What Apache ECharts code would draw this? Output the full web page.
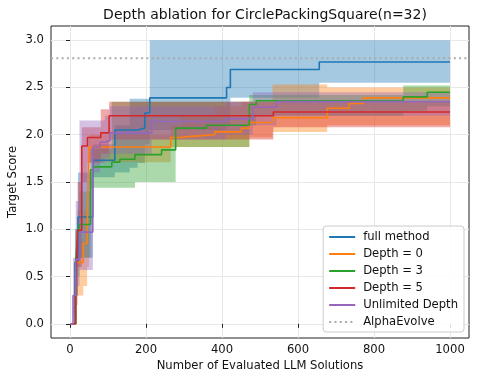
<!DOCTYPE html>
<html>
<head>
<meta charset="utf-8">
<script src="https://cdn.jsdelivr.net/npm/echarts@6/dist/echarts.min.js"></script>
<style>
  html, body { margin: 0; padding: 0; background: #fff; }
  #chart { width: 478px; height: 382px; }
</style>
</head>
<body>
<div id="chart"></div>
<script>
// step data: x = evaluated solutions, mean / low / high = score band
const full_x    = [0, 13, 21, 60, 118, 157, 178, 197, 210, 412, 422, 656, 1000];
const full_mean = [0, 0.65, 1.13, 1.73, 2.05, 2.05, 2.07, 2.23, 2.39, 2.50, 2.69, 2.77, 2.77];
const full_low  = [0, 0.30, 0.70, 1.55, 1.60, 1.65, 1.70, 1.90, 2.05, 2.10, 2.39, 2.55, 2.55];
const full_high = [0, 1.00, 1.60, 1.90, 2.10, 2.38, 2.38, 2.38, 3.00, 3.00, 3.00, 3.00, 3.00];

const d0_x    = [0, 15, 35, 45, 50, 265, 293, 310, 381, 451, 472, 533, 677, 735, 772, 1000];
const d0_mean = [0, 0.65, 0.85, 0.99, 1.87, 1.97, 1.98, 2.00, 2.03, 2.07, 2.13, 2.18, 2.28, 2.33, 2.39, 2.39];
const d0_low  = [0, 0.30, 0.40, 0.60, 1.71, 1.87, 1.87, 1.87, 1.87, 1.87, 1.97, 2.03, 2.10, 2.10, 2.10, 2.10];
const d0_high = [0, 0.90, 1.20, 1.50, 2.00, 2.10, 2.20, 2.20, 2.30, 2.35, 2.35, 2.53, 2.50, 2.50, 2.50, 2.50];

const d3_x    = [0, 15, 20, 25, 54, 60, 110, 131, 171, 241, 278, 359, 472, 490, 877, 940, 1000];
const d3_mean = [0, 0.68, 0.89, 1.05, 1.63, 1.66, 1.71, 1.74, 1.79, 1.84, 2.07, 2.10, 2.32, 2.36, 2.40, 2.45, 2.45];
const d3_low  = [0, 0.30, 0.50, 0.70, 1.44, 1.44, 1.44, 1.44, 1.50, 1.50, 1.87, 1.87, 2.10, 2.20, 2.25, 2.30, 2.30];
const d3_high = [0, 1.00, 1.20, 1.40, 1.85, 1.85, 2.35, 2.35, 2.35, 2.35, 2.35, 2.35, 2.42, 2.42, 2.52, 2.52, 2.52];

const d5_x    = [0, 15, 20, 31, 46, 81, 103, 535, 1000];
const d5_mean = [0, 0.40, 0.99, 1.88, 1.97, 2.02, 2.20, 2.24, 2.24];
const d5_low  = [0, 0.20, 0.60, 1.50, 1.70, 1.80, 1.95, 2.08, 2.08];
const d5_high = [0, 0.80, 1.50, 2.08, 2.08, 2.27, 2.35, 2.35, 2.35];

const unl_x    = [0, 8, 15, 25, 60, 79, 92, 105, 215, 411, 481, 543, 1000];
const unl_mean = [0, 0.30, 0.68, 0.97, 1.87, 1.92, 1.94, 2.02, 2.14, 2.17, 2.29, 2.35, 2.35];
const unl_low  = [0, 0.10, 0.40, 0.57, 1.60, 1.70, 1.75, 1.80, 1.95, 2.00, 2.10, 2.20, 2.20];
const unl_high = [0, 0.70, 1.30, 2.15, 2.15, 2.15, 2.20, 2.30, 2.30, 2.35, 2.45, 2.45, 2.45];

const alpha_evolve = 2.81;

const x_ticks = [0, 200, 400, 600, 800, 1000];
const y_ticks = [0, 0.5, 1.0, 1.5, 2.0, 2.5, 3.0];

const methods = [
  { name: 'full method',     color: '#1f77b4', x: full_x, mean: full_mean, low: full_low, high: full_high },
  { name: 'Depth = 0',       color: '#ff7f0e', x: d0_x,   mean: d0_mean,   low: d0_low,   high: d0_high },
  { name: 'Depth = 3',       color: '#2ca02c', x: d3_x,   mean: d3_mean,   low: d3_low,   high: d3_high },
  { name: 'Depth = 5',       color: '#d62728', x: d5_x,   mean: d5_mean,   low: d5_low,   high: d5_high },
  { name: 'Unlimited Depth', color: '#9467bd', x: unl_x,  mean: unl_mean,  low: unl_low,  high: unl_high }
];

const font = 'DejaVu Sans';
const labelSize = 11.6;
const series = [];

// step-post band (like fill_between(step='post')) drawn as one polygon per method
function bandPolygon(m, api) {
  const upper = [];
  const lower = [];
  for (let j = 0; j < m.x.length; j++) {
    const xNext = j < m.x.length - 1 ? m.x[j + 1] : m.x[j];
    upper.push(api.coord([m.x[j], m.high[j]]));
    upper.push(api.coord([xNext, m.high[j]]));
    lower.push(api.coord([m.x[j], m.low[j]]));
    lower.push(api.coord([xNext, m.low[j]]));
  }
  return upper.concat(lower.reverse());
}

series.push({
  name: 'bands',
  type: 'custom',
  silent: true,
  z: 1,
  data: methods.map((m, i) => [i]),
  encode: { x: -1, y: -1 },
  renderItem: function (params, api) {
    const m = methods[params.dataIndex];
    return {
      type: 'polygon',
      shape: { points: bandPolygon(m, api) },
      style: { fill: m.color, opacity: 0.4, stroke: null }
    };
  }
});

methods.forEach(function (m) {
  series.push({
    name: m.name,
    type: 'line', step: 'end', symbol: 'none',
    color: m.color,
    lineStyle: { color: m.color, width: 1.6 }, z: 3,
    data: m.x.map((x, j) => [x, m.mean[j]])
  });
});

series.push({
  name: 'AlphaEvolve',
  type: 'line', symbol: 'none',
  color: '#aaaaaa',
  lineStyle: { color: '#aaaaaa', width: 2, type: [2, 3.3] }, z: 2,
  data: [[-50, alpha_evolve], [1050, alpha_evolve]]
});

const chart = echarts.init(document.getElementById('chart'), null, { renderer: 'canvas' });
chart.setOption({
  animation: false,
  backgroundColor: '#fff',
  title: {
    text: 'Depth ablation for CirclePackingSquare(n=32)',
    left: 260, top: 3, textAlign: 'center',
    textStyle: { fontFamily: font, fontSize: 14, fontWeight: 'normal', color: '#111' }
  },
  grid: {
    left: 51, right: 9, top: 26, bottom: 44,
    outerBoundsMode: 'none', containLabel: false,
    show: true, borderColor: '#222', borderWidth: 1, backgroundColor: 'transparent'
  },
  xAxis: {
    type: 'value', min: -50, max: 1050,
    name: 'Number of Evaluated LLM Solutions', nameLocation: 'middle', nameGap: 22,
    nameMoveOverlap: false,
    nameTextStyle: { fontFamily: font, fontSize: labelSize, color: '#111' },
    axisLine: { show: false },
    axisTick: { show: true, inside: false, length: 4, customValues: x_ticks, lineStyle: { color: '#222' } },
    axisLabel: { customValues: x_ticks, margin: 6, fontFamily: font, fontSize: labelSize, color: '#111', formatter: v => String(v) },
    splitLine: { show: true, lineStyle: { color: '#e8e8e8', width: 1 } }
  },
  yAxis: {
    type: 'value', min: -0.15, max: 3.15,
    name: 'Target Score', nameLocation: 'middle', nameGap: 32,
    nameMoveOverlap: false,
    nameTextStyle: { fontFamily: font, fontSize: labelSize, color: '#111' },
    axisLine: { show: false },
    axisTick: { show: true, inside: false, length: 4, customValues: y_ticks, lineStyle: { color: '#222' } },
    axisLabel: {
      customValues: y_ticks, margin: 7, fontFamily: font, fontSize: labelSize, color: '#111',
      formatter: v => Number(v).toFixed(1)
    },
    splitLine: { show: true, lineStyle: { color: '#e8e8e8', width: 1 } }
  },
  legend: {
    data: methods.map(m => m.name).concat(['AlphaEvolve']),
    orient: 'vertical', right: 14, bottom: 50,
    itemWidth: 26, itemHeight: 10, itemGap: 5,
    padding: [5, 6, 4, 5],
    backgroundColor: 'rgba(255,255,255,0.85)',
    borderColor: '#cccccc', borderWidth: 1, borderRadius: 3,
    itemStyle: { opacity: 0 },
    textStyle: { fontFamily: font, fontSize: labelSize, color: '#111', padding: [0, 0, 0, 3] }
  },
  series: series
});
</script>
</body>
</html>
